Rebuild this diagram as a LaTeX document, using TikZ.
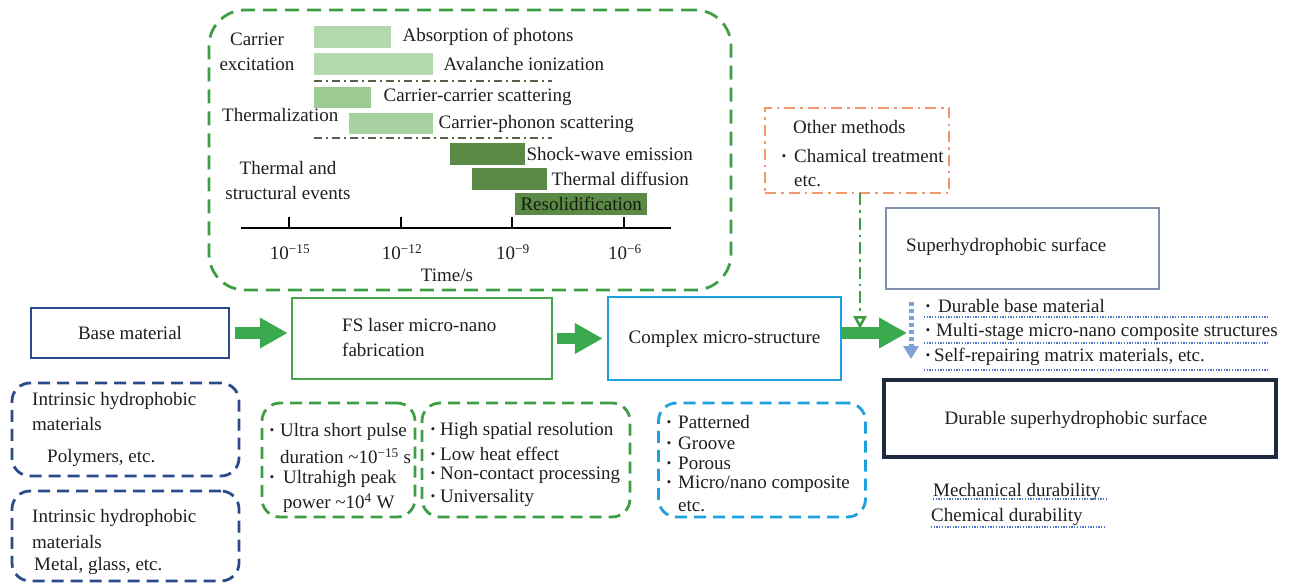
\documentclass[tikz,border=0pt]{standalone}
\usepackage{fontspec}
\setmainfont{Liberation Serif}
\newfontfamily\tms{Liberation Serif}
\usetikzlibrary{arrows.meta}
\definecolor{gdash}{HTML}{3E9E45}
\definecolor{barL}{HTML}{B4D8AE}
\definecolor{barL2}{HTML}{A8D1A1}
\definecolor{barM}{HTML}{9BCB92}
\definecolor{barD}{HTML}{5B8A47}
\definecolor{sepc}{HTML}{56604A}
\definecolor{navy}{HTML}{2C4A8A}
\definecolor{fsg}{HTML}{47A54C}
\definecolor{cyanb}{HTML}{1DA0DE}
\definecolor{shb}{HTML}{7F90AE}
\definecolor{dkb}{HTML}{1F2940}
\definecolor{orng}{HTML}{F0966C}
\definecolor{arrg}{HTML}{3BAA4E}
\definecolor{bdot}{HTML}{7EA0D4}
\definecolor{uline}{HTML}{4A76C8}
\definecolor{ink}{HTML}{1E1E1E}
\begin{document}
\begin{tikzpicture}[x=1pt,y=-1pt,
  every node/.style={font=\tms\fontsize{19}{25}\selectfont, inner sep=0pt, text=ink},
  txt/.style={anchor=west},
  bul/.style={anchor=base, font=\tms\bfseries\fontsize{19}{25}\selectfont},
  solidbox/.style={draw, line width=2.5pt},
  dbox/.style={draw, line width=2.8pt, rounded corners=18pt, dash pattern=on 12pt off 7pt},
  bar/.style={anchor=north west, inner sep=0pt},
  sepline/.style={sepc, line width=1.4pt, dash pattern=on 8pt off 4pt on 2pt off 4pt},
  bigarrow/.style={arrg, line width=11.5pt, -{Triangle[length=28pt,width=29pt]}},
  uln/.style={uline, line width=1.3pt, dash pattern=on 1.3pt off 1.4pt}
]
\useasboundingbox (0,0) rectangle (1297,583);

% ---------- top timeline box ----------
\node[dbox, gdash, rounded corners=36pt, dash pattern=on 14pt off 8pt, minimum width=522pt, minimum height=280pt] (top) at (470,150) {};

\node[align=center, text=ink] (ce) at (257,52) {Carrier\\excitation};
\node[txt] (th) at (222,115) {Thermalization};
\node[align=center, text=ink] (tse) at (288,180.5) {Thermal and\\structural events};

\node[bar, fill=barL, minimum width=77pt, minimum height=22pt] (b1) at (314,26) {};
\node[bar, fill=barL, minimum width=119pt, minimum height=22pt] (b2) at (314,53) {};
\node[bar, fill=barM, minimum width=57pt, minimum height=21pt] (b3) at (314,87) {};
\node[bar, fill=barL2, minimum width=84pt, minimum height=21pt] (b4) at (349,113) {};
\node[bar, fill=barD, minimum width=75pt, minimum height=22pt] (b5) at (450,143) {};
\node[bar, fill=barD, minimum width=75pt, minimum height=22pt] (b6) at (472,168) {};
\node[bar, fill=barD, minimum width=132pt, minimum height=22pt, text=black!80!barD] (b7) at (515,193) {Resolidification};

\node[txt] (l1) at ([xshift=11pt]b1.east) {Absorption of photons};
\node[txt] (l2) at ([xshift=10pt]b2.east) {Avalanche ionization};
\node[txt] (l3) at ([xshift=12pt]b3.east) {Carrier-carrier scattering};
\node[txt] (l4) at ([xshift=5pt]b4.east) {Carrier-phonon scattering};
\node[txt] (l5) at ([xshift=1pt]b5.east) {Shock-wave emission};
\node[txt] (l6) at ([xshift=4pt]b6.east) {Thermal diffusion};

\draw[sepline] (314,81) -- (552,81);
\draw[sepline] (314,138) -- (552,138);

\draw[line width=2.6pt] (241,228) -- (671,228);
\foreach \x/\e in {289/15,401/12,512/9,624/6}{
  \draw[line width=2.6pt] (\x,217) -- (\x,228);
  \node at (\x+1,252) {10\textsuperscript{−\e}};
}
\node (time) at (447,275) {Time/s};

% ---------- other methods ----------
\node[draw, orng, line width=2.5pt, dash pattern=on 11pt off 5pt on 2.5pt off 5pt, minimum width=184pt, minimum height=85pt] (om) at (857,150.5) {};
\node[txt] (om1) at (793,127) {Other methods};
\node[txt] (om2) at (794,156) {Chamical treatment};
\node[bul] (om2b) at ([xshift=-10pt]om2.base west) {·};
\node[txt] (om3) at (794,181) {etc.};

% ---------- main row ----------
\node[solidbox, navy, minimum width=198pt, minimum height=50pt, text=ink] (base) at (130,333) {Base material};
\node[solidbox, fsg, minimum width=260pt, minimum height=81pt] (fs) at (422,338.5) {};
\node[txt, align=left, text=ink] (fst) at (342,337.5) {FS laser micro-nano\\fabrication};
\node[solidbox, cyanb, minimum width=233pt, minimum height=83pt, text=ink] (cm) at (724.5,338.5) {Complex micro-structure};

\coordinate (aend) at (907,333);
\draw[bigarrow, shorten <=5pt, shorten >=3pt] (base.east) -- (base.east -| fs.west);
\draw[bigarrow, shorten <=4pt, shorten >=4pt] (fs.east |- cm.center) -- (cm.west);
\draw[bigarrow] (cm.east |- aend) -- (aend);

\coordinate (gtip) at (860,193);
\coordinate (gend) at (860,329);
\draw[gdash, line width=2.6pt, dash pattern=on 12pt off 5pt on 2.5pt off 5pt, -{Triangle[length=13pt,width=13pt,open,fill=white]}] (gtip) -- (gend);

% ---------- right side ----------
\node[solidbox, shb, minimum width=273pt, minimum height=81pt] (sh) at (1022.5,248.5) {};
\node[txt] (sht) at (906,247) {Superhydrophobic surface};

\coordinate (bd1) at (911,302);
\coordinate (bd2) at (911,359);
\draw[bdot, line width=5pt, dash pattern=on 4pt off 3pt, -{Triangle[length=13pt,width=15pt]}] (bd1) -- (bd2);

\node[txt] (p1) at (938,306) {Durable base material};
\node[bul] (p1b) at ([xshift=-10pt]p1.base west) {·};
\node[txt] (p2) at (936,332) {Multi-stage micro-nano composite structures};
\node[bul] (p2b) at ([xshift=-8pt]p2.base west) {·};
\node[txt] (p3) at (934,357) {Self-repairing matrix materials, etc.};
\node[bul] (p3b) at ([xshift=-6pt]p3.base west) {·};
\draw[uln] (924,317) -- (1269,317);
\draw[uln] (924,343) -- (1269,343);
\draw[uln] (924,370) -- (1269,370);

\node[draw, dkb, line width=3.5pt, minimum width=392pt, minimum height=77pt] (dur) at (1080,418.5) {};
\node (durt) at (1076,420) {Durable superhydrophobic surface};

\node[txt] (md) at (933,492) {Mechanical durability};
\node[txt] (cd) at (931,517) {Chemical durability};
\draw[uln] (933,499) -- (1106,499);
\draw[uln] (931,527) -- (1106,527);

% ---------- lower left ----------
\node[dbox, navy, minimum width=227pt, minimum height=93pt] (ih1) at (125.5,429.5) {};
\node[txt] (ih1a) at (32,401) {Intrinsic hydrophobic};
\node[txt] (ih1b) at (32,424) {materials};
\node[txt] (ih1p) at (47,458) {Polymers, etc.};
\node[dbox, navy, minimum width=227pt, minimum height=90pt] (ih2) at (125.5,536) {};
\node[txt] (ih2a) at (32,518) {Intrinsic hydrophobic};
\node[txt] (ih2b) at (32,542) {materials};
\node[txt] (ih2p) at (34,566) {Metal, glass, etc.};

% ---------- lower middle ----------
\node[dbox, gdash, minimum width=153pt, minimum height=114pt] (fa) at (338.5,460) {};
\node[txt] (fa1) at (280,432) {Ultra short pulse};
\node[bul] (fa1b) at ([xshift=-8pt]fa1.base west) {·};
\node[txt] (fa2) at (280,456) {duration \textasciitilde10\textsuperscript{−15} s};
\node[txt] (fa3) at (283,479) {Ultrahigh peak};
\node[bul] (fa3b) at ([xshift=-11pt]fa3.base west) {·};
\node[txt] (fa4) at (283,503) {power \textasciitilde10\textsuperscript{4} W};

\node[dbox, gdash, minimum width=208pt, minimum height=114pt] (fb) at (526,460) {};
\node[txt] (fb1) at (440,431) {High spatial resolution};
\node[bul] (fb1b) at ([xshift=-7pt]fb1.base west) {·};
\node[txt] (fb2) at (440,454) {Low heat effect};
\node[bul] (fb2b) at ([xshift=-7pt]fb2.base west) {·};
\node[txt] (fb3) at (440,475) {Non-contact processing};
\node[bul] (fb3b) at ([xshift=-7pt]fb3.base west) {·};
\node[txt] (fb4) at (440,498) {Universality};
\node[bul] (fb4b) at ([xshift=-7pt]fb4.base west) {·};

\node[dbox, cyanb, minimum width=207pt, minimum height=114pt] (cb) at (762,460) {};
\node[txt] (cb1) at (678,422) {Patterned};
\node[bul] (cb1b) at ([xshift=-9pt]cb1.base west) {·};
\node[txt] (cb2) at (678,443) {Groove};
\node[bul] (cb2b) at ([xshift=-9pt]cb2.base west) {·};
\node[txt] (cb3) at (678,463) {Porous};
\node[bul] (cb3b) at ([xshift=-9pt]cb3.base west) {·};
\node[txt] (cb4) at (678,484) {Micro/nano composite};
\node[bul] (cb4b) at ([xshift=-9pt]cb4.base west) {·};
\node[txt] (cb5) at (678,506) {etc.};
\end{tikzpicture}
\end{document}
